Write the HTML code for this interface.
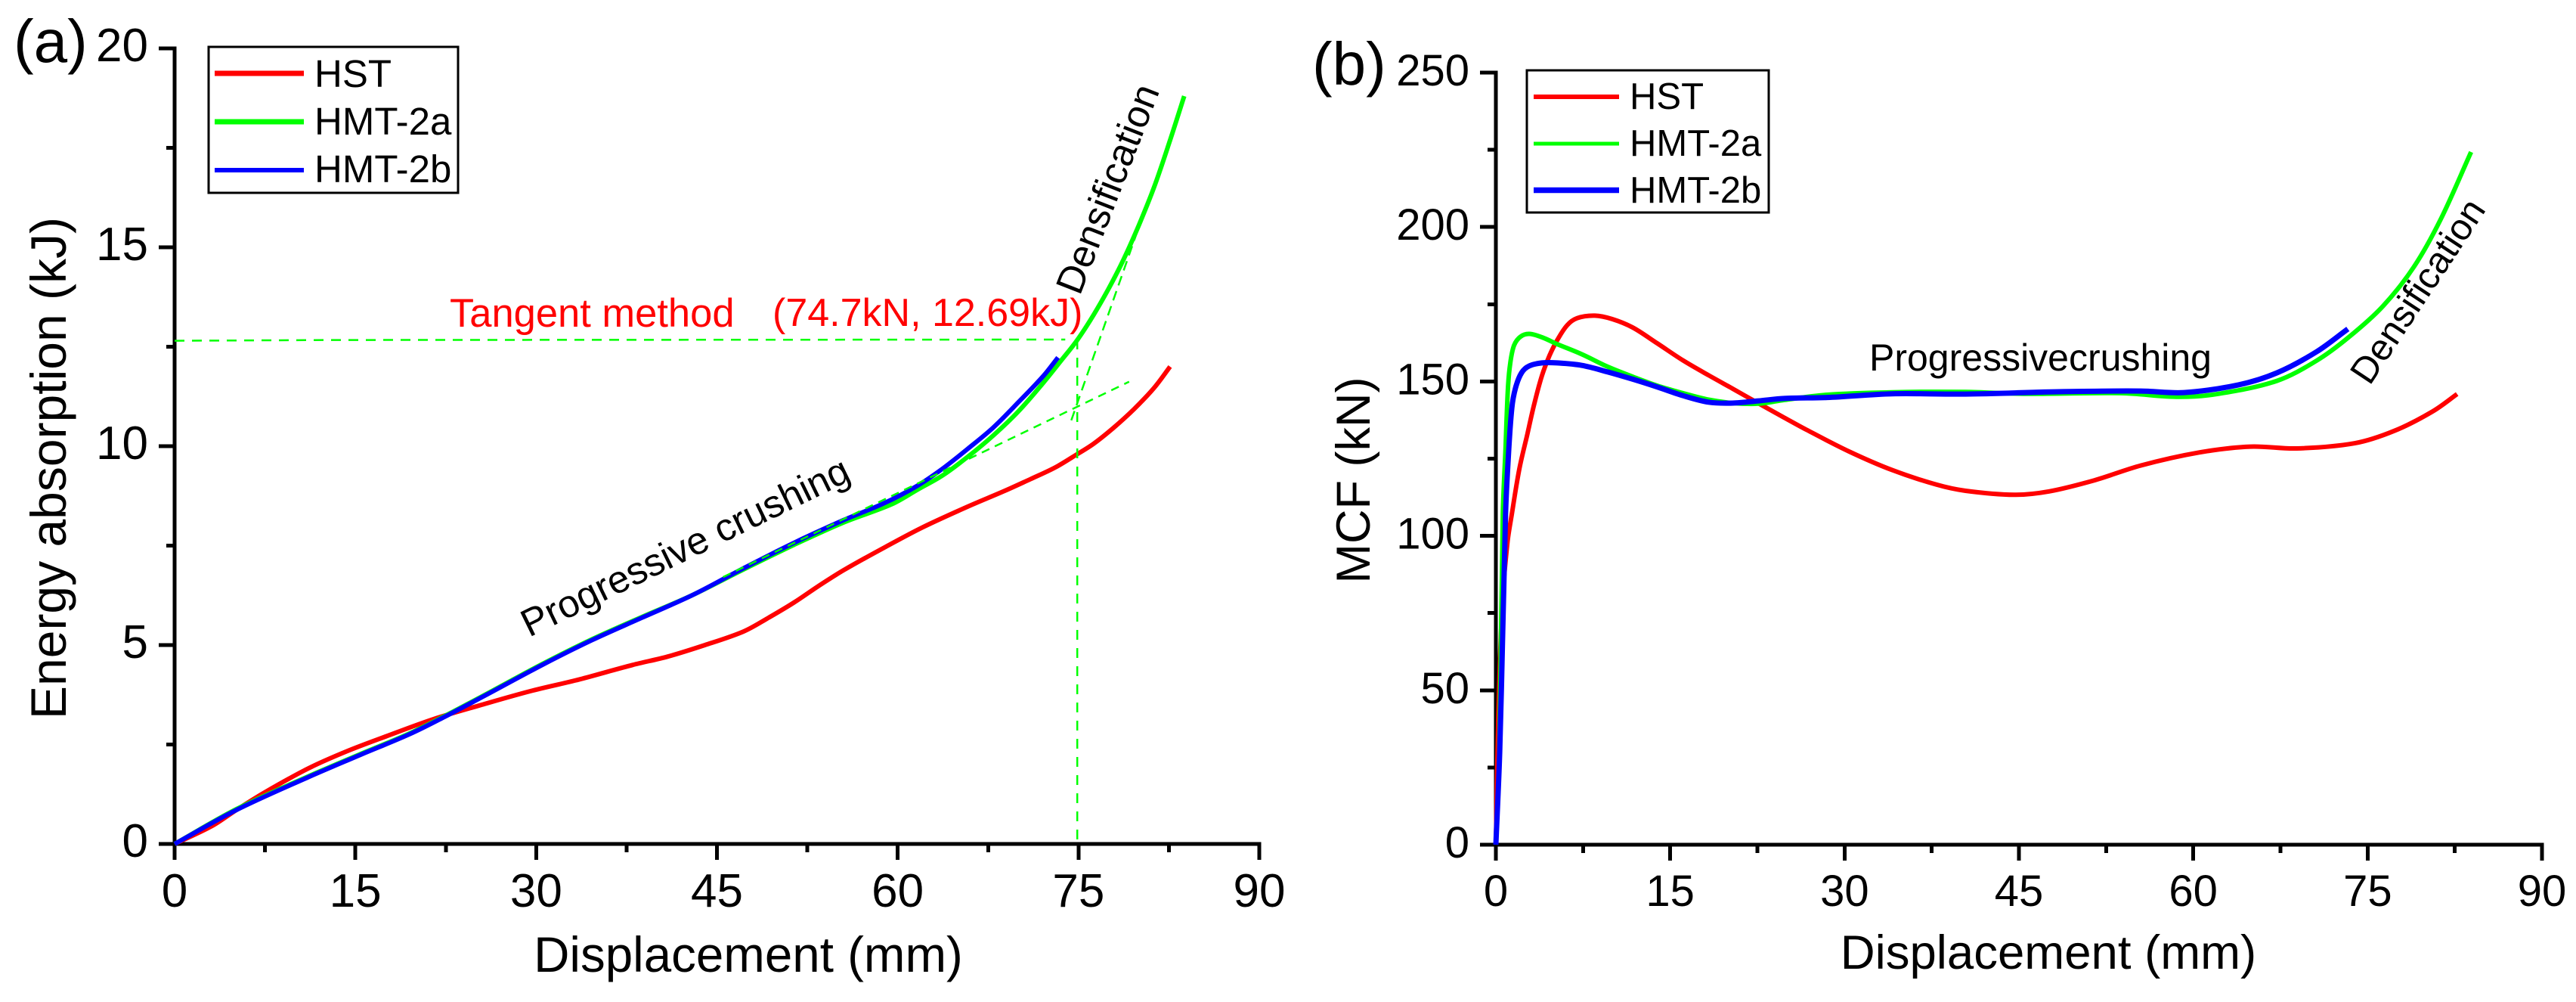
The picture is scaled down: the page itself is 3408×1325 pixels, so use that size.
<!DOCTYPE html>
<html lang="en">
<head>
<meta charset="utf-8">
<title>Energy absorption and MCF versus displacement</title>
<style>
html,body{margin:0;padding:0;background:#fff;}
svg{display:block;}
text{font-family:"Liberation Sans",Arial,sans-serif;fill:#000;}
</style>
</head>
<body>
<svg id="figure" xmlns="http://www.w3.org/2000/svg" width="3408" height="1325" viewBox="0 0 3408 1325">
  <rect x="0" y="0" width="3408" height="1325" fill="#fff"/>

  <g id="panel-a">
    <text x="18" y="82" font-size="80">(a)</text>
    <text transform="translate(87,619) rotate(-90)" text-anchor="middle" font-size="66">Energy absorption (kJ)</text>
    <text x="990" y="1285" text-anchor="middle" font-size="65.500">Displacement (mm)</text>
    <text x="595" y="432" font-size="52.500" style="fill:#ff0000">Tangent method</text>
    <text x="1022" y="431" font-size="52" style="fill:#ff0000">(74.7kN, 12.69kJ)</text>
    <text transform="translate(700,843) rotate(-26)" font-size="51">Progressive crushing</text>
    <text transform="translate(1428.500,392) rotate(-68.7)" font-size="51">Densification</text>
  </g>

  <g id="panel-b">
    <text x="1736" y="112" font-size="80">(b)</text>
    <text transform="translate(1812,635) rotate(-90)" text-anchor="middle" font-size="63">MCF (kN)</text>
    <text x="2710" y="1281" text-anchor="middle" font-size="63.500">Displacement (mm)</text>
    <text x="2473" y="490" font-size="50">Progressivecrushing</text>
    <text transform="translate(3135,511) rotate(-56.5)" font-size="49">Densification</text>
  </g>

  <g id="legend-a">
    <rect x="276" y="62" width="330" height="193" fill="#fff" stroke="#000" stroke-width="3"/>
    <line x1="284" y1="97" x2="402" y2="97" stroke="#ff0000" stroke-width="7"/>
    <text x="416" y="115" font-size="51">HST</text>
    <line x1="284" y1="161" x2="402" y2="161" stroke="#00ff00" stroke-width="7"/>
    <text x="416" y="178" font-size="51">HMT-2a</text>
    <line x1="284" y1="225" x2="402" y2="225" stroke="#0000ff" stroke-width="6"/>
    <text x="416" y="241" font-size="51">HMT-2b</text>
  </g>

  <g id="legend-b">
    <rect x="2020" y="93" width="320" height="188" fill="#fff" stroke="#000" stroke-width="3"/>
    <line x1="2029" y1="128" x2="2142" y2="128" stroke="#ff0000" stroke-width="6"/>
    <text x="2156" y="144" font-size="49">HST</text>
    <line x1="2029" y1="190" x2="2142" y2="190" stroke="#00ff00" stroke-width="5"/>
    <text x="2156" y="206" font-size="49">HMT-2a</text>
    <line x1="2029" y1="251.500" x2="2142" y2="251.500" stroke="#0000ff" stroke-width="7.500"/>
    <text x="2156" y="268" font-size="49">HMT-2b</text>
  </g>
</svg>

<script>
// Shared axis ticks
const xTicks = [0, 15, 30, 45, 60, 75, 90];
const xMinorTicks = [7.5, 22.5, 37.5, 52.5, 67.5, 82.5];
const energyTicks = [0, 5, 10, 15, 20];
const energyMinorTicks = [2.5, 7.5, 12.5, 17.5];
const mcfTicks = [0, 50, 100, 150, 200, 250];
const mcfMinorTicks = [25, 75, 125, 175, 225];

// Panel (a): energy absorption (kJ) against displacement (mm)
const energyHstX = [0, 3.1, 5.1, 7.5, 11.1, 14.3, 17.5, 21.5, 25.5, 29.5, 33.5, 38, 40.9, 44, 47.2, 49.3, 51.4, 53.4, 55.5, 59, 62, 65.8, 68.9, 71, 73.1, 74.9, 76.25, 77.9, 79.6, 81.26, 82.6];
const energyHstY = [0, 0.45, 0.85, 1.3, 1.9, 2.33, 2.7, 3.14, 3.5, 3.84, 4.13, 4.5, 4.71, 5, 5.34, 5.69, 6.07, 6.48, 6.88, 7.47, 7.95, 8.48, 8.88, 9.17, 9.47, 9.8, 10.06, 10.46, 10.93, 11.46, 12];
const energyHmt2aX = [0, 5.1, 11.1, 15.5, 19.5, 22.3, 25.5, 30.5, 34.6, 38.8, 43, 47.2, 51.4, 55.5, 59.5, 61.6, 63.7, 65.8, 67.9, 70, 72.1, 73.5, 74.9, 76.25, 77.5, 78.75, 80, 81.26, 82.5, 83.77];
const energyHmt2aY = [0, 0.87, 1.7, 2.27, 2.78, 3.2, 3.71, 4.52, 5.14, 5.71, 6.26, 6.9, 7.52, 8.08, 8.54, 8.9, 9.26, 9.73, 10.26, 10.87, 11.6, 12.13, 12.67, 13.3, 13.96, 14.7, 15.55, 16.5, 17.6, 18.8];
const energyHmt2bX = [0, 5.1, 11.1, 15.5, 19.5, 22.3, 25.5, 30.5, 34.6, 38.8, 43, 47.2, 51.4, 55.5, 58.9, 61.6, 63.7, 65.8, 67.9, 70, 72.1, 73.3];
const energyHmt2bY = [0, 0.85, 1.68, 2.25, 2.76, 3.18, 3.69, 4.5, 5.12, 5.69, 6.26, 6.93, 7.57, 8.14, 8.57, 9, 9.43, 9.93, 10.46, 11.1, 11.77, 12.23];
const tangentLevelX = [0, 13.2, 73.9];
const tangentLevelY = [12.65, 12.67, 12.68];
const tangentDropX = [74.9, 74.9];
const tangentDropY = [12.68, 0];
const tangentPlateauX = [45.5, 79.2];
const tangentPlateauY = [6.71, 11.62];
const tangentSteepX = [74.4, 79.9];
const tangentSteepY = [10.65, 15.42];

// Panel (b): MCF (kN) against displacement (mm)
const mcfHstX = [0, 0.2, 0.55, 1, 1.37, 2.02, 2.67, 3.32, 3.97, 4.62, 5.27, 6.13, 7, 8.52, 10, 11.8, 13.9, 16.1, 18.3, 20.4, 22.6, 24.8, 26.7, 30.4, 34.1, 37.9, 40.4, 44.6, 47.6, 51.5, 55.5, 60.5, 64.9, 68.9, 73.9, 77.3, 80.6, 82.7];
const mcfHstY = [0, 40, 78, 98, 107, 121.7, 132.3, 143, 151.9, 158.4, 163.3, 168.2, 170.5, 171.3, 170.2, 167.4, 162.3, 156.8, 152, 147.6, 142.9, 138.3, 134.4, 127.3, 121.3, 116.6, 114.6, 113.3, 114.4, 118, 122.8, 127, 128.9, 128.3, 130, 134, 140.3, 145.9];
const mcfHmt2aX = [0, 0.27, 0.6, 0.83, 1.04, 1.24, 1.57, 2.12, 2.87, 3.97, 5.27, 7.4, 9.6, 11.8, 13.9, 16.1, 18.3, 20.4, 22.6, 24.8, 28.5, 34.1, 40.4, 45.4, 53.8, 58.8, 62.2, 67.2, 70.6, 73.4, 76.3, 79, 81.3, 83.9];
const mcfHmt2aY = [0, 25, 107, 128.3, 147.9, 156, 161.7, 164.5, 165.4, 164.3, 162.1, 158.8, 154.8, 151.5, 148.6, 146.2, 144.1, 143, 142.8, 144, 145.7, 146.5, 146.6, 146, 146.2, 145, 146, 150.2, 156.7, 164.4, 174.3, 187.2, 202.6, 224.3];
const mcfHmt2bX = [0, 0.33, 0.6, 0.83, 1.04, 1.37, 1.69, 2.21, 2.86, 3.97, 5.27, 7.4, 9.6, 11.8, 13.9, 16.1, 18.3, 20.4, 22.6, 24.8, 28.5, 34.1, 40.4, 48.8, 55.5, 59.2, 63.9, 67.2, 70.6, 73.3];
const mcfHmt2bY = [0, 30, 70, 107, 123.4, 141.3, 147.9, 152.8, 155, 156, 156, 155.2, 153.1, 150.7, 148.2, 145.4, 143.3, 143, 143.7, 144.5, 144.8, 146, 145.9, 146.7, 146.9, 146.4, 148.9, 152.8, 159.6, 167];

const NS = 'http://www.w3.org/2000/svg';

function axisScale(d0, d1, p0, p1) {
  return function (v) { return p0 + (v - d0) * (p1 - p0) / (d1 - d0); };
}
const xA = axisScale(0, 90, 231, 1666);
const yA = axisScale(0, 20, 1116, 64);
const xB = axisScale(0, 90, 1979, 3363);
const yB = axisScale(0, 250, 1117, 96);

function make(parent, tag, attrs, txt) {
  const el = document.createElementNS(NS, tag);
  for (const k in attrs) el.setAttribute(k, attrs[k]);
  if (txt !== undefined) el.textContent = txt;
  parent.appendChild(el);
  return el;
}

// Spline whose handle length follows each segment, so uneven point spacing does not kink.
function smoothPath(xs, ys, sx, sy) {
  const p = xs.map(function (x, i) { return [sx(x), sy(ys[i])]; });
  const tangents = p.map(function (pt, i) {
    const a = p[Math.max(i - 1, 0)], c = p[Math.min(i + 1, p.length - 1)];
    const dx = c[0] - a[0], dy = c[1] - a[1], len = Math.hypot(dx, dy) || 1;
    return [dx / len, dy / len];
  });
  let d = 'M' + p[0][0].toFixed(1) + ' ' + p[0][1].toFixed(1);
  for (let i = 0; i < p.length - 1; i++) {
    const b = p[i], c = p[i + 1];
    const h = Math.hypot(c[0] - b[0], c[1] - b[1]) / 3;
    d += 'C' + (b[0] + tangents[i][0] * h).toFixed(1) + ' ' + (b[1] + tangents[i][1] * h).toFixed(1) +
         ' ' + (c[0] - tangents[i + 1][0] * h).toFixed(1) + ' ' + (c[1] - tangents[i + 1][1] * h).toFixed(1) +
         ' ' + c[0].toFixed(1) + ' ' + c[1].toFixed(1);
  }
  return d;
}

function drawAxes(panel, sx, sy, xMaj, xMin, yMaj, yMin, xMaxV, yMaxV, tickFont, xBase, yRight) {
  const g = make(panel, 'g', { stroke: '#000', 'stroke-width': 5, fill: 'none', 'shape-rendering': 'crispEdges' });
  
  
  const x0 = sx(0), y0 = sy(0);
  const yLine = make(g, 'line', { x1: x0, y1: sy(yMaxV) - 2.5, x2: x0, y2: y0 + 21 });
  
  
  const xLine = make(g, 'line', { x1: x0 - 21, y1: y0, x2: sx(xMaxV) + 2.5, y2: y0 });
  
  

  xMaj.forEach(function (v) {
    const t = make(g, 'line', { x1: sx(v), y1: y0, x2: sx(v), y2: y0 + 21 });
    
    
    const lab = make(panel, 'text', { x: sx(v), y: xBase, 'text-anchor': 'middle', 'font-size': tickFont }, String(v));
    
    
  });
  xMin.forEach(function (v) {
    const t = make(g, 'line', { x1: sx(v), y1: y0, x2: sx(v), y2: y0 + 11 });
    
    
  });
  yMaj.forEach(function (v) {
    const t = make(g, 'line', { x1: x0 - 21, y1: sy(v), x2: x0, y2: sy(v) });
    
    
    const lab = make(panel, 'text', { x: yRight, y: sy(v) + 17, 'text-anchor': 'end', 'font-size': tickFont }, String(v));
    
    
  });
  yMin.forEach(function (v) {
    const t = make(g, 'line', { x1: x0 - 11, y1: sy(v), x2: x0, y2: sy(v) });
    
    
  });
}

function drawCurve(panel, xs, ys, sx, sy, color, width) {
  return make(panel, 'path', { d: smoothPath(xs, ys, sx, sy), fill: 'none', stroke: color, 'stroke-width': width, 'stroke-linejoin': 'round' });
}

function drawDashed(panel, xs, ys, sx, sy, dash) {
  const pts = xs.map(function (x, i) { return sx(x).toFixed(1) + ',' + sy(ys[i]).toFixed(1); }).join(' ');
  return make(panel, 'polyline', { points: pts, fill: 'none', stroke: '#00ff00', 'stroke-width': 2.5, 'stroke-dasharray': dash });
}

const panelA = document.getElementById('panel-a');
const panelB = document.getElementById('panel-b');

drawAxes(panelA, xA, yA, xTicks, xMinorTicks, energyTicks, energyMinorTicks, 90, 20, 62, 1199, 196);
drawAxes(panelB, xB, yB, xTicks, xMinorTicks, mcfTicks, mcfMinorTicks, 90, 250, 58, 1198, 1944);

const curveAHst = drawCurve(panelA, energyHstX, energyHstY, xA, yA, '#ff0000', 6);


const curveAHmt2a = drawCurve(panelA, energyHmt2aX, energyHmt2aY, xA, yA, '#00ff00', 6);


const curveAHmt2b = drawCurve(panelA, energyHmt2bX, energyHmt2bY, xA, yA, '#0000ff', 6);



const dashLevel = drawDashed(panelA, tangentLevelX, tangentLevelY, xA, yA, '13 10');


const dashDrop = drawDashed(panelA, tangentDropX, tangentDropY, xA, yA, '13 11');


const dashPlateau = drawDashed(panelA, tangentPlateauX, tangentPlateauY, xA, yA, '11 8');


const dashSteep = drawDashed(panelA, tangentSteepX, tangentSteepY, xA, yA, '13 8');



const curveBHst = drawCurve(panelB, mcfHstX, mcfHstY, xB, yB, '#ff0000', 6);


const curveBHmt2a = drawCurve(panelB, mcfHmt2aX, mcfHmt2aY, xB, yB, '#00ff00', 6);


const curveBHmt2b = drawCurve(panelB, mcfHmt2bX, mcfHmt2bY, xB, yB, '#0000ff', 7);


</script>
</body>
</html>
